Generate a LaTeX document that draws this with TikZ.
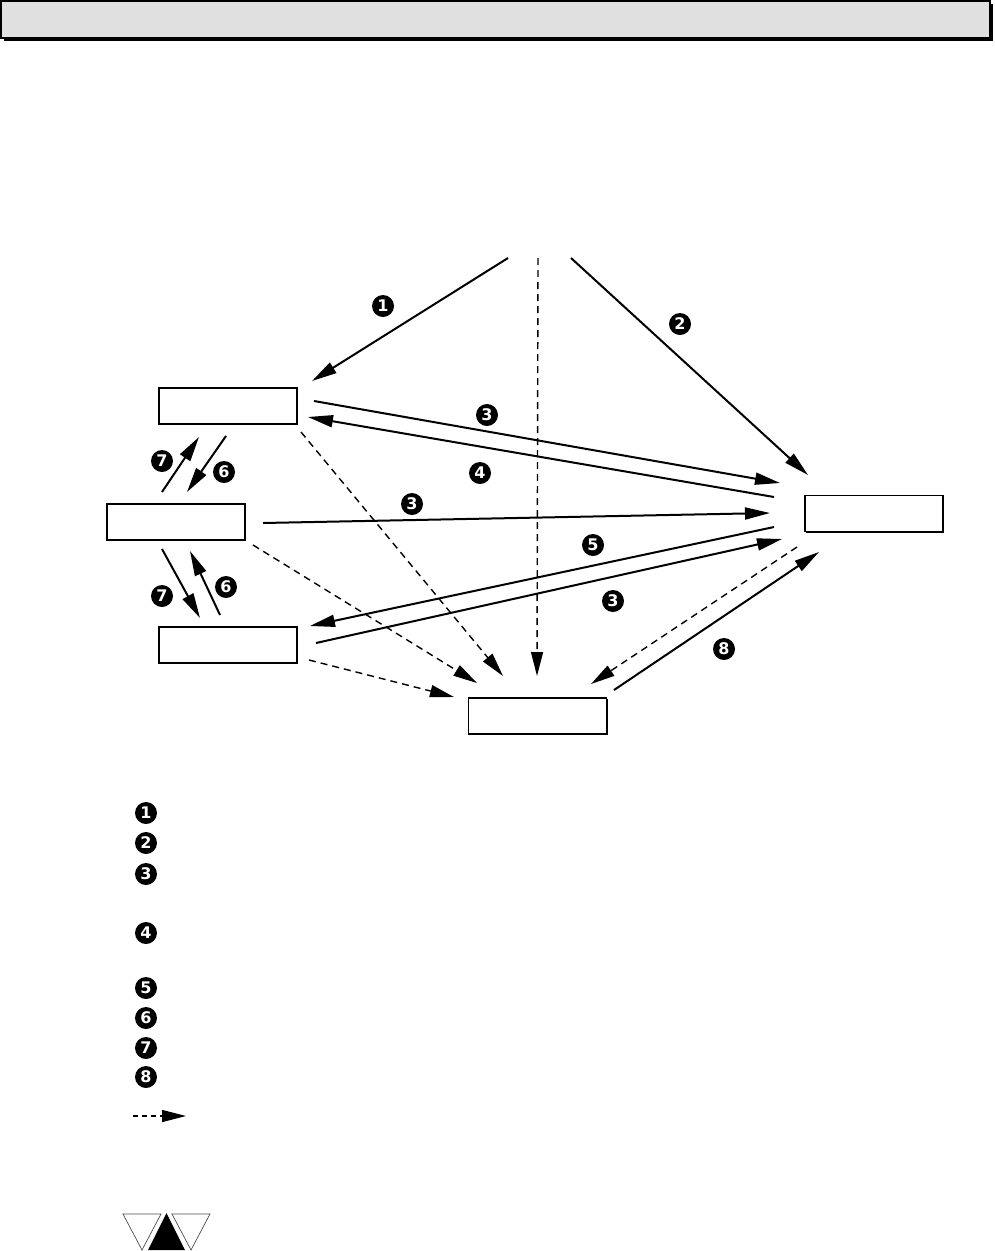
\documentclass[tikz,border=0pt]{standalone}
\usepackage{fontspec}
\newfontfamily\numfont{DejaVu Sans}
\usetikzlibrary{arrows.meta,shadows}
\definecolor{barfill}{HTML}{E0E0E0}
\tikzset{
  box/.style={draw, fill=white, line width=1.4pt, minimum width=138pt, minimum height=36pt, inner sep=0pt,
    drop shadow={shadow xshift=1pt, shadow yshift=-1pt, fill=black, opacity=1}},
  num/.style={circle, fill=black, text=white, minimum size=22pt, inner sep=0pt,
    font=\numfont\bfseries\fontsize{16}{16}\selectfont},
  arr/.style={line width=2pt, -{Triangle[length=25pt,width=12pt]}},
  darr/.style={line width=1.4pt, dash pattern=on 7pt off 5pt, -{Triangle[length=24pt,width=12pt]}},
}
\begin{document}
\begin{tikzpicture}[x=1pt,y=-1pt]
\useasboundingbox (0,0) rectangle (995,1251);
% header bar
\fill[black] (4,4) rectangle (993,41);
\draw[fill=barfill, line width=1.6pt] (1,1) rectangle (990,38);
% boxes
\node[box] (A) at (228,406) {};
\node[box] (B) at (176,522) {};
\node[box] (C) at (228,645) {};
\node[box] (D) at (874,513.5) {};
\node[box] (E) at (537.5,716) {};
% coordinates
\coordinate (s1) at (508,258);
\coordinate (s0) at (538,258);
\coordinate (s2) at (571,258);
\coordinate (e1) at (312,381);
\coordinate (e2) at (808,475);
\coordinate (e0) at (537,676);
\coordinate (a3s) at (314,401);
\coordinate (a3e) at (780,483);
\coordinate (a4s) at (774,497);
\coordinate (a4e) at (308,417);
\coordinate (b3s) at (263,523);
\coordinate (b3e) at (770,513);
\coordinate (a5s) at (774,527);
\coordinate (a5e) at (310,626);
\coordinate (c3s) at (316,643);
\coordinate (c3e) at (782,539);
\coordinate (dEs) at (797,547);
\coordinate (dEe) at (591,684);
\coordinate (a8s) at (614,690);
\coordinate (a8e) at (819,552);
\coordinate (daS) at (301,432);
\coordinate (daE) at (503,676);
\coordinate (dbS) at (253,545);
\coordinate (dbE) at (477,683);
\coordinate (dcS) at (309,660);
\coordinate (dcE) at (454,697);
\coordinate (u7s) at (162,492);
\coordinate (u7e) at (199,437);
\coordinate (u6s) at (226,436);
\coordinate (u6e) at (187,492);
\coordinate (l7s) at (162,549);
\coordinate (l7e) at (200,618);
\coordinate (l6s) at (220,615);
\coordinate (l6e) at (190,551);
% solid arrows
\draw[arr] (s1) -- (e1);
\draw[arr] (s2) -- (e2);
\draw[arr] (a3s) -- (a3e);
\draw[arr] (a4s) -- (a4e);
\draw[arr] (b3s) -- (b3e);
\draw[arr] (a5s) -- (a5e);
\draw[arr] (c3s) -- (c3e);
\draw[arr] (a8s) -- (a8e);
\draw[arr] (u7s) -- (u7e);
\draw[arr] (u6s) -- (u6e);
\draw[arr] (l7s) -- (l7e);
\draw[arr] (l6s) -- (l6e);
% dashed arrows
\draw[darr] (s0) -- (e0);
\draw[darr] (dEs) -- (dEe);
\draw[darr] (daS) -- (daE);
\draw[darr] (dbS) -- (dbE);
\draw[darr] (dcS) -- (dcE);
% labels
\node[num] (n1) at (383,306) {1};
\node[num] (n2) at (680,324) {2};
\node[num] (n3a) at (487,415) {3};
\node[num] (n4) at (480,473) {4};
\node[num] (n3b) at (412,504) {3};
\node[num] (n5) at (593,545) {5};
\node[num] (n3c) at (613,601) {3};
\node[num] (n8) at (724,649) {8};
\node[num] (n7a) at (162,461) {7};
\node[num] (n6a) at (224,472) {6};
\node[num] (n7b) at (162,596) {7};
\node[num] (n6b) at (226,587) {6};
% legend
\node[num] (L1) at (146,813) {1};
\node[num] (L2) at (146,843) {2};
\node[num] (L3) at (146,874) {3};
\node[num] (L4) at (146,933) {4};
\node[num] (L5) at (146,988) {5};
\node[num] (L6) at (146,1018) {6};
\node[num] (L7) at (146,1048) {7};
\node[num] (L8) at (146,1077) {8};
\coordinate (lgS) at (133,1116);
\coordinate (lgE) at (186,1116);
\draw[darr, line width=1.4pt, dash pattern=on 5pt off 4pt] (lgS) -- (lgE);
% bottom triangles
\draw[line width=0.7pt, draw=black!70] (123,1214) -- (161,1214) -- (142,1250) -- cycle;
\fill[black] (148,1250) -- (185,1250) -- (166.5,1213) -- cycle;
\draw[line width=0.7pt, draw=black!70] (172,1214) -- (210,1214) -- (191,1250) -- cycle;
\end{tikzpicture}
\end{document}
